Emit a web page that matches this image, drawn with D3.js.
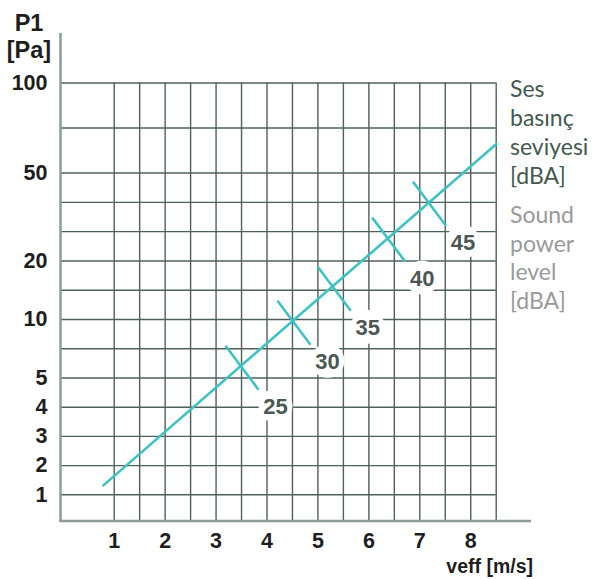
<!DOCTYPE html>
<html><head><meta charset="utf-8">
<script src="https://cdn.jsdelivr.net/npm/d3@7"></script>
<style>
body{margin:0;background:#fff;}
svg{display:block;}
</style></head>
<body>
<svg id="chart" width="593" height="579"></svg>
<script>
// ---- data ----
const xLabels = [1,2,3,4,5,6,7,8];
const xGrid = [1,1.5,2,2.5,3,3.5,4,4.5,5,5.5,6,6.5,7,7.5,8,8.5];
const yLabels = [1,2,3,4,5,10,20,50,100];
const yGrid = [1,2,3,4,5,7.5,10,15,20,30,40,50,75,100];
const lineV = [0.79, 8.53];
const lineP = [1.28, 66.2];
const crossDb = [25,30,35,40,45];
const crossV = [3.49,4.51,5.30,6.37,7.17];
const crossP = [6.0,9.85,15.5,27.8,40];
const titleY = ["P1","[Pa]"];
const titleX = "veff [m/s]";
const legendTR = ["Ses","basınç","seviyesi","[dBA]"];
const legendEN = ["Sound","power","level","[dBA]"];

// ---- scales ----
const x = d3.scaleLinear().domain([0,1,8.5]).range([60.5,113.7,495.7]);
const y = d3.scaleLinear().domain([0,1,5,10,20,50,100]).range([521,494.3,377.5,319,260.5,172.5,82.5]);

const svg = d3.select("#chart");
const gridColor = "#50615c", axisColor = "#8d9c97", teal = "#3fc2c6";
const bold = "'Liberation Sans', Arial, sans-serif";

// horizontal grid
const gy = svg.append("g").attr("transform",`translate(${x(0)},0)`)
  .call(d3.axisLeft(y).tickValues(yGrid).tickSize(-(x(8.5)-x(0))).tickFormat(""));
gy.select(".domain").remove();
gy.selectAll("line").attr("stroke",gridColor).attr("stroke-width",1.4);

// vertical grid
const gx = svg.append("g").attr("transform",`translate(0,${y(0)})`)
  .call(d3.axisBottom(x).tickValues(xGrid).tickSize(-(y(0)-y(100))).tickFormat(""));
gx.select(".domain").remove();
gx.selectAll("line").attr("stroke",gridColor).attr("stroke-width",1.4);

// axes lines
svg.append("line").attr("x1",x(0)).attr("x2",x(0)).attr("y1",33).attr("y2",y(0)+1)
  .attr("stroke",axisColor).attr("stroke-width",2.5);
svg.append("line").attr("x1",x(0)-1).attr("x2",531).attr("y1",y(0)).attr("y2",y(0))
  .attr("stroke",axisColor).attr("stroke-width",2.5);

// y labels
const yl = svg.append("g").attr("transform",`translate(${x(0)},0)`)
  .call(d3.axisLeft(y).tickValues(yLabels).tickSize(0).tickPadding(13).tickFormat(d3.format("d")));
yl.select(".domain").remove();
yl.selectAll("text").attr("font-family",bold).attr("font-weight","bold").attr("font-size",21.5).attr("fill","#1e1e1e");

// x labels
const xl = svg.append("g").attr("transform",`translate(0,${y(0)})`)
  .call(d3.axisBottom(x).tickValues(xLabels).tickSize(0).tickPadding(12).tickFormat(d3.format("d")));
xl.select(".domain").remove();
xl.selectAll("text").attr("font-family",bold).attr("font-weight","bold").attr("font-size",21.5).attr("fill","#1e1e1e");

// axis titles
svg.append("g").selectAll("text").data(titleY).join("text")
  .attr("x",29).attr("y",(d,i)=>31+i*27).attr("text-anchor","middle")
  .attr("font-family",bold).attr("font-weight","bold").attr("font-size",23.5).attr("fill","#1e1e1e").text(d=>d);
svg.append("text").attr("x",533).attr("y",573).attr("text-anchor","end")
  .attr("font-family",bold).attr("font-weight","bold").attr("font-size",19.5).attr("fill","#1e1e1e").text(titleX);

// main line
const pts = lineV.map((v,i)=>[x(v),y(lineP[i])]);
svg.append("path").attr("d",d3.line()(pts)).attr("fill","none").attr("stroke",teal).attr("stroke-width",2.6);

// crosses
const ux = 0.6, uy = 0.8;
const crosses = crossDb.map((db,i)=>({db,cx:x(crossV[i]),cy:y(crossP[i])}));
const cg = svg.append("g");
cg.selectAll("line").data(crosses).join("line")
  .attr("x1",d=>d.cx-ux*25).attr("y1",d=>d.cy-uy*25)
  .attr("x2",d=>d.cx+ux*30).attr("y2",d=>d.cy+uy*30)
  .attr("stroke",teal).attr("stroke-width",2.6);
const lg = svg.append("g");
lg.selectAll("circle").data(crosses).join("circle")
  .attr("cx",d=>d.cx+35).attr("cy",d=>d.cy+40).attr("r",17).attr("fill","#fff");
lg.selectAll("text").data(crosses).join("text")
  .attr("x",d=>d.cx+35).attr("y",d=>d.cy+40).attr("dy","0.36em").attr("text-anchor","middle")
  .attr("font-family",bold).attr("font-weight","bold").attr("font-size",22).attr("fill","#4b5854").text(d=>d.db);

// legend text
const geo = "Lato, 'Open Sans', sans-serif";
svg.append("g").selectAll("text").data(legendTR).join("text")
  .attr("x",510).attr("y",(d,i)=>97+i*29).attr("font-family",geo).attr("font-size",23).attr("fill","#44594f").text(d=>d);
svg.append("g").selectAll("text").data(legendEN).join("text")
  .attr("x",510).attr("y",(d,i)=>223+i*28.5).attr("font-family",geo).attr("font-size",23).attr("fill","#9a9a9a").text(d=>d);
</script>
</body></html>
